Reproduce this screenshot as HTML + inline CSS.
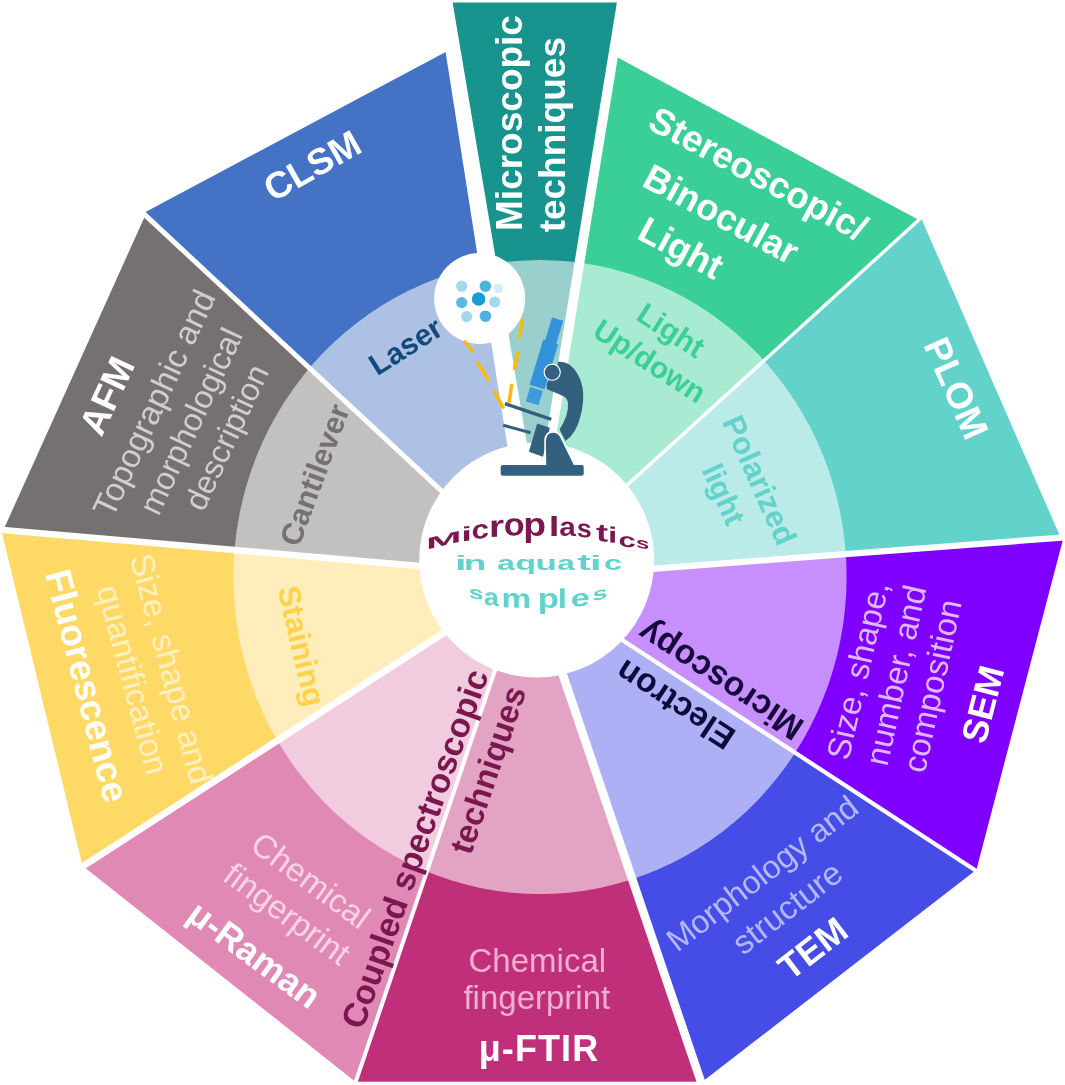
<!DOCTYPE html>
<html><head><meta charset="utf-8"><title>Microplastics techniques</title>
<style>
html,body{margin:0;padding:0;background:#fff;}
body{width:1065px;height:1085px;overflow:hidden;font-family:"Liberation Sans",sans-serif;}
svg{display:block;font-family:"Liberation Sans",sans-serif;filter:blur(0.55px);}
</style></head><body>
<svg width="1065" height="1085" viewBox="0 0 1065 1085">
<rect width="100%" height="100%" fill="#fff"/>
<polygon points="495.5,541.2 145.3,215.3 3.4,530.0 494.6,572.5" fill="#767171"/>
<polygon points="494.6,572.5 1.2,529.8 82.7,866.4 503.4,594.4" fill="#FFD966"/>
<polygon points="503.4,594.4 83.1,866.2 355.7,1082.0 518.0,602.2" fill="#E089B5"/>
<polygon points="518.0,602.2 355.7,1081.8 701.0,1081.8 539.7,606.7" fill="#C0307A"/>
<polygon points="539.7,606.7 701.3,1082.6 975.4,870.5 563.2,601.4" fill="#464CE6"/>
<polygon points="563.2,601.4 976.1,870.9 1063.5,537.4 580.4,574.4" fill="#7F00FF"/>
<polygon points="580.4,574.4 1060.6,537.6 921.1,217.9 577.9,529.8" fill="#62D2CB"/>
<polygon points="495.5,541.2 143.2,213.3 445.6,52.0 512.7,480.0" fill="#4472C4"/>
<polygon points="577.9,529.8 918.9,219.9 617.8,57.4 549.0,480.0" fill="#3BCF98"/>
<polygon points="452.6,2.6 616.9,2.6 540.3,472.6 531.8,472.6" fill="#18938D"/>
<line x1="136.1" y1="206.7" x2="495.5" y2="541.2" stroke="#fff" stroke-width="5.0"/>
<line x1="-8.8" y1="528.9" x2="494.6" y2="572.5" stroke="#fff" stroke-width="6.5"/>
<line x1="73.3" y1="872.5" x2="503.4" y2="594.4" stroke="#fff" stroke-width="6.8"/>
<line x1="351.7" y1="1093.8" x2="518.0" y2="602.2" stroke="#fff" stroke-width="4.0"/>
<line x1="705.1" y1="1093.9" x2="539.7" y2="606.7" stroke="#fff" stroke-width="8.5"/>
<line x1="985.2" y1="876.8" x2="563.2" y2="601.4" stroke="#fff" stroke-width="4.2"/>
<line x1="1073.2" y1="536.7" x2="580.4" y2="574.4" stroke="#fff" stroke-width="6.2"/>
<line x1="928.0" y1="211.6" x2="577.9" y2="529.8" stroke="#fff" stroke-width="3.4"/>
<ellipse cx="540" cy="577" rx="306.6" ry="317" fill="#fff" opacity="0.56"/>
<circle cx="536.7" cy="560" r="117.5" fill="#fff"/>
<text transform="translate(312.0,165.3) rotate(-29.5)" y="13.2" font-size="37" font-weight="bold" fill="#fff" text-anchor="middle">CLSM</text>
<text transform="translate(405.3,345.8) rotate(-32.3)" y="10.7" font-size="30" font-weight="bold" fill="#124A7B" text-anchor="middle">Laser</text>
<text transform="translate(106.5,395.5) rotate(-65.0)" y="13.4" font-size="37.3" font-weight="bold" fill="#fff" text-anchor="middle">AFM</text>
<text transform="translate(153.6,403.0) rotate(-65.0)" y="11.9" font-size="33.2" font-weight="normal" fill="#D0CECE" text-anchor="middle">Topographic and</text>
<text transform="translate(190.5,421.0) rotate(-65.0)" y="11.6" font-size="32.3" font-weight="normal" fill="#D0CECE" text-anchor="middle">morphological</text>
<text transform="translate(226.0,437.0) rotate(-65.0)" y="11.6" font-size="32.3" font-weight="normal" fill="#D0CECE" text-anchor="middle">description</text>
<text transform="translate(314.2,474.8) rotate(-69.8)" y="11.0" font-size="30.6" font-weight="bold" fill="#767171" text-anchor="middle">Cantilever</text>
<text transform="translate(87.5,685.6) rotate(75.5)" y="13.2" font-size="37" font-weight="bold" fill="#fff" text-anchor="middle">Fluorescence</text>
<text transform="translate(171.7,668.7) rotate(75.0)" y="11.8" font-size="33" font-weight="normal" fill="#FFF0C4" text-anchor="middle">Size, shape and</text>
<text transform="translate(133.2,679.6) rotate(75.0)" y="11.8" font-size="33" font-weight="normal" fill="#FFF0C4" text-anchor="middle">quantification</text>
<text transform="translate(302.0,645.8) rotate(77.0)" y="11.1" font-size="31" font-weight="bold" fill="#FFD24C" text-anchor="middle">Staining</text>
<text transform="translate(311.0,880.0) rotate(36.3)" y="11.8" font-size="33" font-weight="normal" fill="#F6D3E5" text-anchor="middle">Chemical</text>
<text transform="translate(287.5,913.5) rotate(36.3)" y="11.8" font-size="33" font-weight="normal" fill="#F6D3E5" text-anchor="middle">fingerprint</text>
<text transform="translate(254.7,954.0) rotate(36.3)" y="12.9" font-size="36" font-weight="bold" fill="#fff" text-anchor="middle">μ-Raman</text>
<text transform="translate(537.3,960.4) rotate(0.0)" y="11.8" font-size="33" font-weight="normal" fill="#EFAFCF" text-anchor="middle">Chemical</text>
<text transform="translate(536.8,997.2) rotate(0.0)" y="11.8" font-size="33" font-weight="normal" fill="#EFAFCF" text-anchor="middle">fingerprint</text>
<text transform="translate(539.0,1048.0) rotate(0.0)" y="12.9" font-size="36" font-weight="bold" fill="#fff" text-anchor="middle" letter-spacing="1.1">μ-FTIR</text>
<text transform="translate(414.4,848.6) rotate(-70.5)" y="12.2" font-size="34.2" font-weight="bold" fill="#7B1750" text-anchor="middle">Coupled spectroscopic</text>
<text transform="translate(487.5,769.6) rotate(-71.3)" y="11.8" font-size="33" font-weight="bold" fill="#7B1750" text-anchor="middle">techniques</text>
<text transform="translate(761.9,873.0) rotate(-37.6)" y="11.6" font-size="32.3" font-weight="normal" fill="#B4B8F6" text-anchor="middle">Morphology and</text>
<text transform="translate(786.9,907.4) rotate(-37.6)" y="11.8" font-size="33" font-weight="normal" fill="#B4B8F6" text-anchor="middle">structure</text>
<text transform="translate(812.5,948.0) rotate(-37.6)" y="12.9" font-size="36" font-weight="bold" fill="#fff" text-anchor="middle">TEM</text>
<text transform="translate(857.3,670.3) rotate(-77.0)" y="11.8" font-size="33" font-weight="normal" fill="#DDB8FF" text-anchor="middle">Size, shape,</text>
<text transform="translate(895.5,675.1) rotate(-77.6)" y="11.8" font-size="33" font-weight="normal" fill="#DDB8FF" text-anchor="middle">number, and</text>
<text transform="translate(931.8,685.8) rotate(-77.8)" y="11.8" font-size="33" font-weight="normal" fill="#DDB8FF" text-anchor="middle">composition</text>
<text transform="translate(982.3,704.2) rotate(-75.4)" y="12.9" font-size="36" font-weight="bold" fill="#fff" text-anchor="middle">SEM</text>
<text transform="translate(720.3,681.0) rotate(213.1)" y="12.2" font-size="34" font-weight="bold" fill="#170A3C" text-anchor="middle">Microscopy</text>
<text transform="translate(675.0,705.0) rotate(213.1)" y="12.0" font-size="33.6" font-weight="bold" fill="#0E0B3C" text-anchor="middle">Electron</text>
<text transform="translate(956.7,388.0) rotate(66.0)" y="13.2" font-size="36.8" font-weight="bold" fill="#fff" text-anchor="middle">PLOM</text>
<text transform="translate(760.0,480.0) rotate(66.0)" y="11.1" font-size="31" font-weight="bold" fill="#62D2CB" text-anchor="middle">Polarized</text>
<text transform="translate(723.9,494.2) rotate(66.0)" y="10.7" font-size="30" font-weight="bold" fill="#62D2CB" text-anchor="middle">light</text>
<text transform="translate(652.3,116.0) rotate(28.3)" y="13.2" font-size="36.8" font-weight="bold" fill="#fff" text-anchor="start">Stereoscopic/</text>
<text transform="translate(646.8,173.5) rotate(28.3)" y="13.2" font-size="36.8" font-weight="bold" fill="#fff" text-anchor="start">Binocular</text>
<text transform="translate(641.7,226.0) rotate(28.3)" y="13.2" font-size="36.8" font-weight="bold" fill="#fff" text-anchor="start">Light</text>
<text transform="translate(671.2,330.1) rotate(33.0)" y="10.7" font-size="30" font-weight="bold" fill="#3BCF98" text-anchor="middle">Light</text>
<text transform="translate(650.0,360.8) rotate(33.0)" y="10.7" font-size="30" font-weight="bold" fill="#3BCF98" text-anchor="middle">Up/down</text>
<text transform="translate(509.2,123.0) rotate(-90.0)" y="13.2" font-size="37" font-weight="bold" fill="#fff" text-anchor="middle">Microscopic</text>
<text transform="translate(551.8,134.7) rotate(-90.0)" y="13.2" font-size="37" font-weight="bold" fill="#fff" text-anchor="middle">techniques</text>
<text transform="matrix(0.4276,-0.1001,0,0.1628,425.94,549.67)" font-size="100" font-weight="bold" fill="#7B1750">M</text>
<text transform="matrix(0.3863,-0.0437,0,0.2029,461.30,541.51)" font-size="100" font-weight="bold" fill="#7B1750">i</text>
<text transform="matrix(0.3137,-0.0287,0,0.2649,471.57,539.31)" font-size="100" font-weight="bold" fill="#7B1750">c</text>
<text transform="matrix(0.3862,-0.0260,0,0.3081,489.05,537.27)" font-size="100" font-weight="bold" fill="#7B1750">r</text>
<text transform="matrix(0.3435,-0.0038,0,0.3194,503.66,535.61)" font-size="100" font-weight="bold" fill="#7B1750">o</text>
<text transform="matrix(0.3731,0.0000,0,0.3307,523.14,535.50)" font-size="100" font-weight="bold" fill="#7B1750">p</text>
<text transform="matrix(0.3863,0.0000,0,0.2677,548.70,535.50)" font-size="100" font-weight="bold" fill="#7B1750">l</text>
<text transform="matrix(0.2982,0.0094,0,0.2649,559.33,535.47)" font-size="100" font-weight="bold" fill="#7B1750">a</text>
<text transform="matrix(0.2708,0.0250,0,0.2537,576.85,536.51)" font-size="100" font-weight="bold" fill="#7B1750">s</text>
<text transform="matrix(0.3629,0.0194,0,0.2514,596.06,540.98)" font-size="100" font-weight="bold" fill="#7B1750">t</text>
<text transform="matrix(0.3353,0.0292,0,0.2222,607.96,542.30)" font-size="100" font-weight="bold" fill="#7B1750">i</text>
<text transform="matrix(0.3116,0.0246,0,0.1973,618.58,546.20)" font-size="100" font-weight="bold" fill="#7B1750">c</text>
<text transform="matrix(0.2396,0.0417,0,0.1503,636.06,547.35)" font-size="100" font-weight="bold" fill="#7B1750">s</text>
<text transform="matrix(0.4154,0.0000,0,0.1973,454.90,570.10)" font-size="100" font-weight="bold" fill="#62D2CB">i</text>
<text transform="matrix(0.3686,0.0000,0,0.1935,463.87,570.10)" font-size="100" font-weight="bold" fill="#62D2CB">n</text>
<text transform="matrix(0.3170,0.0000,0,0.1973,497.27,570.10)" font-size="100" font-weight="bold" fill="#62D2CB">a</text>
<text transform="matrix(0.3360,0.0000,0,0.1973,515.62,570.10)" font-size="100" font-weight="bold" fill="#62D2CB">q</text>
<text transform="matrix(0.3500,0.0000,0,0.1935,535.53,570.10)" font-size="100" font-weight="bold" fill="#62D2CB">u</text>
<text transform="matrix(0.3170,0.0000,0,0.1973,557.37,570.10)" font-size="100" font-weight="bold" fill="#62D2CB">a</text>
<text transform="matrix(0.3953,0.0000,0,0.2146,577.52,570.10)" font-size="100" font-weight="bold" fill="#62D2CB">t</text>
<text transform="matrix(0.4154,0.0000,0,0.1973,590.10,570.10)" font-size="100" font-weight="bold" fill="#62D2CB">i</text>
<text transform="matrix(0.3260,0.0000,0,0.1973,604.03,570.10)" font-size="100" font-weight="bold" fill="#62D2CB">c</text>
<text transform="matrix(0.2646,0.0500,0,0.1785,468.87,597.42)" font-size="100" font-weight="bold" fill="#62D2CB">s</text>
<text transform="matrix(0.2663,0.0319,0,0.2443,484.02,604.41)" font-size="100" font-weight="bold" fill="#62D2CB">a</text>
<text transform="matrix(0.3337,0.0079,0,0.2687,501.40,607.35)" font-size="100" font-weight="bold" fill="#62D2CB">m</text>
<text transform="matrix(0.3473,0.0000,0,0.2687,537.71,608.00)" font-size="100" font-weight="bold" fill="#62D2CB">p</text>
<text transform="matrix(0.3353,-0.0146,0,0.2691,557.66,608.10)" font-size="100" font-weight="bold" fill="#62D2CB">l</text>
<text transform="matrix(0.3417,-0.0311,0,0.2405,570.67,607.12)" font-size="100" font-weight="bold" fill="#62D2CB">e</text>
<text transform="matrix(0.2708,-0.0625,0,0.1785,592.55,601.22)" font-size="100" font-weight="bold" fill="#62D2CB">s</text>
<circle cx="479.7" cy="298.5" r="45.5" fill="#fff"/>
<circle cx="478.6" cy="299" r="6.8" fill="#1B9AD6"/>
<circle cx="461.7" cy="286.2" r="5.6" fill="#A5D8EF"/>
<circle cx="485.4" cy="286.2" r="5.8" fill="#4DB2E0"/>
<circle cx="498.4" cy="288.5" r="4.8" fill="#D3EDF8"/>
<circle cx="461.7" cy="302.6" r="5.6" fill="#5BB9E3"/>
<circle cx="494.8" cy="302" r="5.6" fill="#A5D8EF"/>
<circle cx="466.6" cy="316.6" r="5.6" fill="#A5D8EF"/>
<circle cx="485.4" cy="316.2" r="5.8" fill="#4DB2E0"/>
<line x1="465.3" y1="342.0" x2="472.3" y2="351.0" stroke="#FDB913" stroke-width="3.6" stroke-linecap="round"/>
<line x1="477.5" y1="362.8" x2="488.2" y2="379.2" stroke="#FDB913" stroke-width="3.6" stroke-linecap="round"/>
<line x1="494.6" y1="392.0" x2="503.0" y2="407.0" stroke="#FDB913" stroke-width="3.6" stroke-linecap="round"/>
<line x1="522.3" y1="319.9" x2="519.6" y2="336.5" stroke="#FDB913" stroke-width="3.6" stroke-linecap="round"/>
<line x1="517.6" y1="352.8" x2="514.6" y2="368.3" stroke="#FDB913" stroke-width="3.6" stroke-linecap="round"/>
<line x1="511.6" y1="385.4" x2="509.2" y2="401.5" stroke="#FDB913" stroke-width="3.6" stroke-linecap="round"/>
<g transform="translate(557.6,319.1) rotate(16.8)"><rect x="-5.8" y="0" width="11.6" height="26" fill="#3293D9"/><rect x="-7.8" y="24" width="15.6" height="47" fill="#3293D9"/><rect x="-6.6" y="73" width="13.2" height="15" fill="#3F9BDC"/></g>
<line x1="504.9" y1="403.7" x2="551.3" y2="419.4" stroke="#34607F" stroke-width="3.4"/>
<line x1="503.2" y1="425.2" x2="530.6" y2="432.7" stroke="#34607F" stroke-width="3"/>
<polygon points="537.2,423.6 549.8,427.7 543.0,456.7 528.9,451.8" fill="#34607F"/>
<path d="M558,361.7 Q565,361.5 569.6,364.7 Q575,368.5 577.9,374.6 Q582.5,383 583.2,392.9 Q583.6,401 582,409.5 Q580.5,417.5 577.9,424.4 Q575,431.5 570.4,436.8 L565.4,441 L559.6,429.4 Q563.5,423.5 566.3,416.1 Q568.5,409 567.9,402.8 Q567.5,397.5 562,395.4 L547.2,389.2 Q545.5,384 549,380 L556,376 Z" fill="#34607F"/>
<circle cx="552.2" cy="372.2" r="8.6" fill="#fff"/><circle cx="552.2" cy="372.2" r="7.5" fill="#34607F"/>
<path d="M545.5,466.5 L545.0,441 Q545.5,431.9 553,431.9 Q558.8,431.9 561.3,437.7 L575.4,466.5 Z" fill="#34607F" stroke="#fff" stroke-width="1.6"/>
<rect x="500.7" y="465" width="83" height="10.8" rx="2" fill="#34607F"/>
</svg>
</body></html>
